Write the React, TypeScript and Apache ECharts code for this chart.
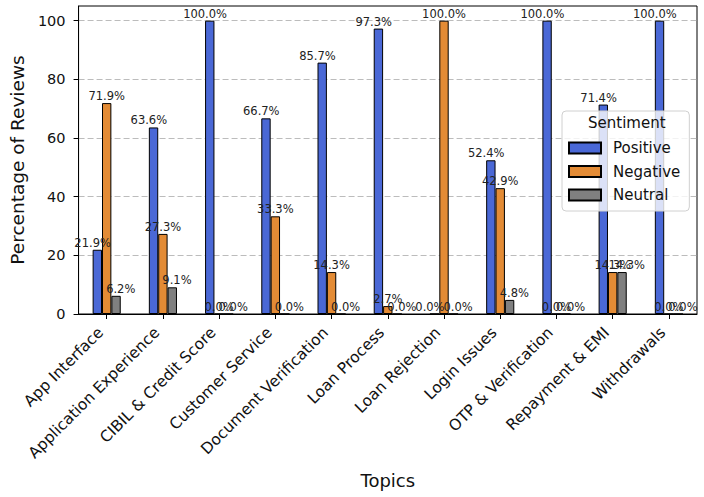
import React, { useEffect, useRef } from "react";
import * as echarts from "echarts";

// Share of reviews per topic, split by sentiment (percent)
const topics = [
  "App Interface",
  "Application Experience",
  "CIBIL & Credit Score",
  "Customer Service",
  "Document Verification",
  "Loan Process",
  "Loan Rejection",
  "Login Issues",
  "OTP & Verification",
  "Repayment & EMI",
  "Withdrawals",
];
const positive = [21.9, 63.6, 100.0, 66.7, 85.7, 97.3, 0.0, 52.4, 100.0, 71.4, 100.0];
const negative = [71.9, 27.3, 0.0, 33.3, 14.3, 2.7, 100.0, 42.9, 0.0, 14.3, 0.0];
const neutral = [6.2, 9.1, 0.0, 0.0, 0.0, 0.0, 0.0, 4.8, 0.0, 14.3, 0.0];
const yTicks = [0, 20, 40, 60, 80, 100];

const FONT = "DejaVu Sans";

export default function App() {
  const ref = useRef<HTMLDivElement>(null);

  useEffect(() => {
    if (!ref.current) return;
    const chart = echarts.init(ref.current, undefined, { renderer: "svg" });

    const mkSeries = (name: string, data: number[], color: string, dx: number) => ({
      name,
      type: "bar",
      data,
      barWidth: "16.67%",
      barGap: "0%",
      itemStyle: { color, borderColor: "#000", borderWidth: 1 },
      label: {
        show: true,
        position: "top",
        distance: 1,
        offset: [dx, 0],
        formatter: (p: any) => `${Number(p.value).toFixed(1)}%`,
        fontFamily: FONT,
        fontSize: 11.5,
        lineHeight: 12,
        color: "#222",
      },
    });

    chart.setOption({
      animation: false,
      grid: {
        left: 72,
        right: 7,
        top: 6,
        bottom: 183,
        show: true,
        borderColor: "#000",
        borderWidth: 1,
        backgroundColor: "transparent",
      },
      legend: {
        orient: "vertical",
        left: 562,
        top: 111,
        data: ["Positive", "Negative", "Neutral"],
        icon: "rect",
        itemWidth: 32,
        itemHeight: 11,
        itemGap: 7.5,
        padding: [29, 9, 8, 6],
        backgroundColor: "rgba(255,255,255,0.8)",
        borderColor: "#d0d0d0",
        borderWidth: 1,
        borderRadius: 4,
        textStyle: {
          fontFamily: FONT,
          fontSize: 15,
          lineHeight: 16,
          color: "#111",
          padding: [0, 0, 0, 7],
        },
        z: 10,
      },
      graphic: [
        {
          type: "text",
          left: 588,
          top: 115,
          z: 100,
          style: {
            text: "Sentiment",
            fontFamily: FONT,
            fontSize: 15,
            fill: "#111",
          },
        },
      ],
      xAxis: {
        type: "category",
        data: topics,
        name: "Topics",
        nameLocation: "middle",
        nameGap: 157,
        nameTextStyle: { fontFamily: FONT, fontSize: 18, color: "#111" },
        axisLine: { lineStyle: { color: "#000", width: 1 } },
        axisTick: { show: true, alignWithLabel: true, length: 5, lineStyle: { color: "#000" } },
        axisLabel: {
          interval: 0,
          rotate: 45,
          margin: 10,
          fontFamily: FONT,
          fontSize: 15.5,
          color: "#111",
          // trailing spacer nudges each rotated label off its tick, right-aligned to the box
          formatter: (v: string) => `${v}{s| }`,
          rich: { s: { width: 8.5, fontSize: 15.5 } },
        },
        splitLine: { show: false },
      },
      yAxis: {
        type: "value",
        min: 0,
        max: 105,
        interval: 20,
        name: "Percentage of Reviews",
        nameLocation: "middle",
        nameGap: 51,
        nameTextStyle: { fontFamily: FONT, fontSize: 18.5, color: "#111" },
        axisLine: { show: true, lineStyle: { color: "#000", width: 1 } },
        axisTick: { show: true, length: 5, lineStyle: { color: "#000" }, customValues: yTicks },
        axisLabel: {
          customValues: yTicks,
          margin: 13,
          fontFamily: FONT,
          fontSize: 14.5,
          color: "#111",
          formatter: (v: number) => (v % 20 === 0 ? String(v) : ""),
        },
        splitLine: {
          show: true,
          lineStyle: { color: "rgba(160,160,160,0.7)", type: [6, 3], width: 1 },
        },
      },
      series: [
        mkSeries("Positive", positive, "#4a68d6", -4.7),
        mkSeries("Negative", negative, "#e38b35", 0),
        mkSeries("Neutral", neutral, "#808080", 4.7),
      ],
    });

    return () => chart.dispose();
  }, []);

  return (
    <div
      ref={ref}
      style={{ position: "fixed", left: 0, top: 0, width: 704, height: 497, background: "#fff" }}
    />
  );
}
